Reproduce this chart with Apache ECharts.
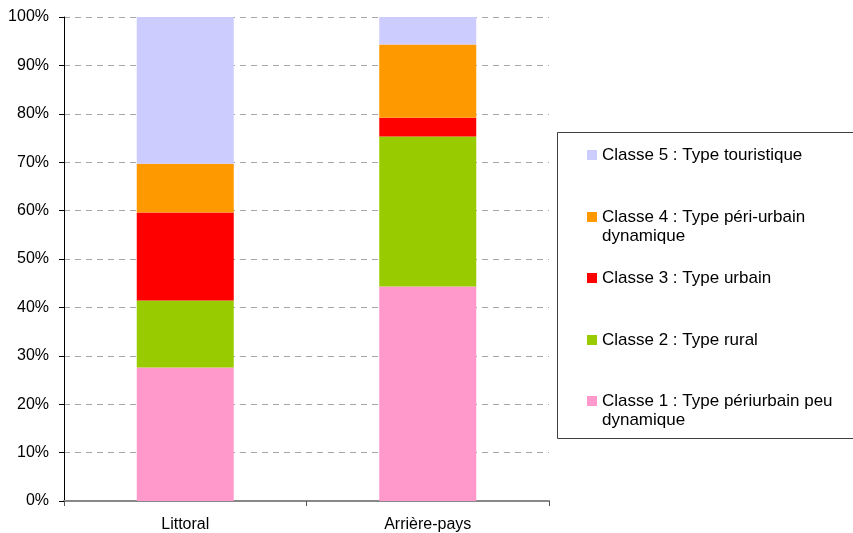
<!DOCTYPE html>
<html>
<head>
<meta charset="utf-8">
<script src="https://cdn.jsdelivr.net/npm/echarts@6/dist/echarts.min.js"></script>
<style>
  html, body { margin: 0; padding: 0; background: #fff; }
  #chart { width: 853px; height: 533px; }
</style>
</head>
<body>
<div id="chart"></div>
<script>
// Territories on the x axis
const categories = ['Littoral', 'Arrière-pays'];

// Share of communes per class (%), bottom to top of each stack
const classe1 = [27.6, 44.3];
const classe2 = [13.8, 31.0];
const classe3 = [18.2, 3.9];
const classe4 = [10.1, 15.1];
const classe5 = [30.3, 5.7];

const seriesNames = [
  'Classe 1 : Type périurbain peu dynamique',
  'Classe 2 : Type rural',
  'Classe 3 : Type urbain',
  'Classe 4 : Type péri-urbain dynamique',
  'Classe 5 : Type touristique'
];
const seriesValues = [classe1, classe2, classe3, classe4, classe5];
const colors = ['#FF99CC', '#99CC00', '#FF0000', '#FF9900', '#CCCCFF'];

// Wrapped legend labels: a blank leading line keeps the swatch beside the first line
const legendLabels = {
  'Classe 1 : Type périurbain peu dynamique': ' \nClasse 1 : Type périurbain peu\ndynamique',
  'Classe 4 : Type péri-urbain dynamique': ' \nClasse 4 : Type péri-urbain\ndynamique'
};
const legendRows = [
  { name: seriesNames[4], y: 155 },
  { name: seriesNames[3], y: 217 },
  { name: seriesNames[2], y: 278 },
  { name: seriesNames[1], y: 340 },
  { name: seriesNames[0], y: 401 }
];

const FONT = '"Liberation Sans", Arial, sans-serif';
const LEGEND_SIZE = 17;
const LINE_H = 19;

const legends = legendRows.map(function (row) {
  const twoLines = !!legendLabels[row.name];
  return {
    data: [row.name],
    orient: 'vertical',
    left: 587,
    top: twoLines ? row.y - LINE_H / 2 - LINE_H : row.y - LINE_H / 2,
    padding: 0,
    itemWidth: 10,
    itemHeight: 10,
    itemGap: 0,
    icon: 'rect',
    selectedMode: false,
    formatter: function (n) { return legendLabels[n] || n; },
    textStyle: {
      fontFamily: FONT,
      fontSize: LEGEND_SIZE,
      lineHeight: LINE_H,
      color: '#000'
    }
  };
});

const chart = echarts.init(document.getElementById('chart'), null, { renderer: 'canvas' });

chart.setOption({
  animation: false,
  backgroundColor: '#fff',
  color: colors,
  grid: { left: 64, right: 304, top: 17, bottom: 32, containLabel: false },
  legend: legends,
  graphic: [{
    type: 'rect',
    shape: { x: 557.5, y: 132.5, width: 310, height: 306 },
    style: { fill: 'none', stroke: '#404040', lineWidth: 1 },
    silent: true,
    z: -1
  }],
  xAxis: {
    type: 'category',
    data: categories,
    boundaryGap: true,
    axisLine: { lineStyle: { color: '#888', width: 2 } },
    axisTick: { show: true, length: 5, lineStyle: { color: '#555' } },
    axisLabel: { fontFamily: FONT, fontSize: 16, color: '#000', margin: 16 },
    splitLine: { show: false }
  },
  yAxis: {
    type: 'value',
    min: 0,
    max: 100,
    interval: 10,
    axisLine: { show: true, lineStyle: { color: '#000', width: 1 } },
    axisTick: { show: true, inside: false, length: 5, lineStyle: { color: '#000' } },
    axisLabel: { fontFamily: FONT, fontSize: 16, color: '#000', margin: 15, formatter: '{value}%' },
    splitLine: { show: true, lineStyle: { color: '#A6A6A6', type: [6, 5], width: 1 } }
  },
  series: seriesNames.map(function (name, i) {
    return {
      name: name,
      type: 'bar',
      stack: 'total',
      barWidth: '40%',
      data: seriesValues[i],
      itemStyle: { color: colors[i] }
    };
  })
});
</script>
</body>
</html>
